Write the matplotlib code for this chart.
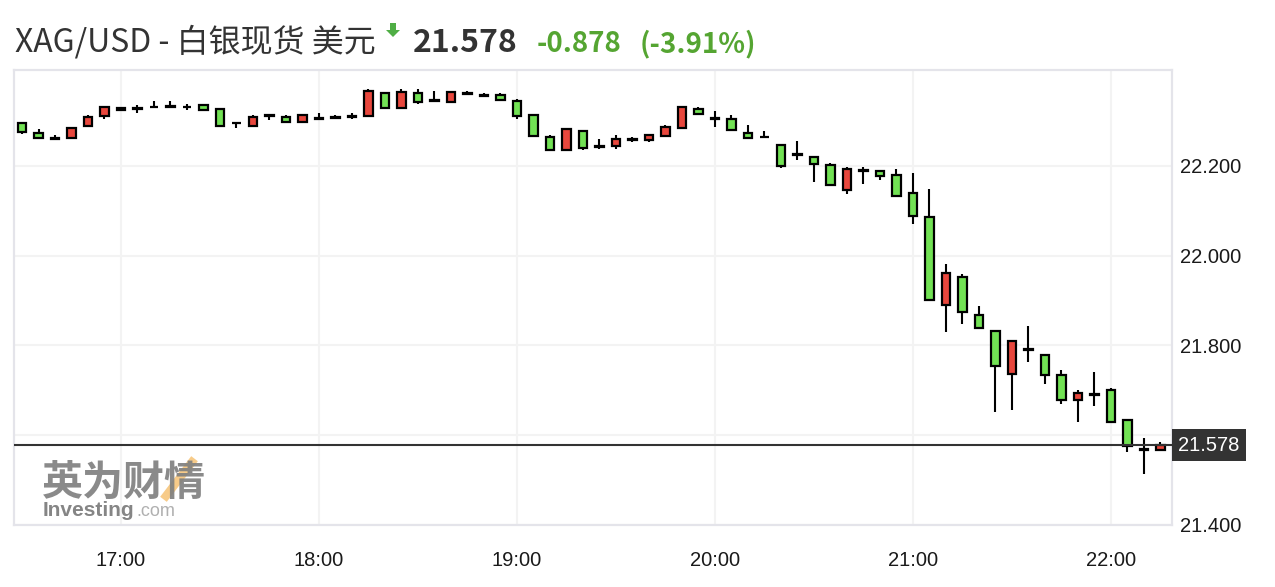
import matplotlib.pyplot as plt
import pandas as pd
from matplotlib.patches import Polygon

plt.rcParams['font.family'] = ['Liberation Sans', 'Noto Sans CJK SC', 'DejaVu Sans']

# 5-minute candles, 16:30 .. 22:15
times = pd.date_range("2020-09-21 16:30", periods=70, freq="5min")

opens = [22.294, 22.272, 22.262, 22.262, 22.289, 22.311, 22.329, 22.329, 22.330, 22.331,
         22.330, 22.336, 22.326, 22.294, 22.288, 22.312, 22.309, 22.298, 22.307, 22.307,
         22.308, 22.311, 22.361, 22.328, 22.361, 22.347, 22.342, 22.360, 22.356, 22.358,
         22.343, 22.312, 22.263, 22.235, 22.277, 22.243, 22.243, 22.258, 22.258, 22.267,
         22.284, 22.326, 22.307, 22.303, 22.272, 22.263, 22.246, 22.225, 22.219, 22.201,
         22.146, 22.190, 22.188, 22.180, 22.140, 22.086, 21.889, 21.952, 21.868, 21.832,
         21.737, 21.792, 21.779, 21.734, 21.679, 21.692, 21.701, 21.634, 21.569, 21.566]
highs = [22.294, 22.282, 22.268, 22.284, 22.313, 22.330, 22.330, 22.335, 22.344, 22.344,
         22.338, 22.336, 22.326, 22.296, 22.313, 22.315, 22.313, 22.313, 22.317, 22.313,
         22.318, 22.371, 22.361, 22.371, 22.371, 22.367, 22.364, 22.367, 22.362, 22.362,
         22.349, 22.312, 22.269, 22.282, 22.277, 22.260, 22.269, 22.264, 22.268, 22.291,
         22.330, 22.330, 22.322, 22.313, 22.291, 22.278, 22.246, 22.256, 22.219, 22.207,
         22.198, 22.198, 22.188, 22.193, 22.184, 22.149, 21.980, 21.958, 21.887, 21.832,
         21.810, 21.842, 21.779, 21.744, 21.700, 21.740, 21.704, 21.634, 21.593, 21.584]
lows = [22.271, 22.262, 22.258, 22.262, 22.289, 22.305, 22.323, 22.318, 22.328, 22.328,
        22.323, 22.324, 22.288, 22.283, 22.288, 22.301, 22.298, 22.298, 22.302, 22.305,
        22.305, 22.311, 22.328, 22.328, 22.337, 22.342, 22.342, 22.359, 22.354, 22.347,
        22.305, 22.267, 22.235, 22.235, 22.234, 22.238, 22.238, 22.252, 22.252, 22.267,
        22.284, 22.315, 22.287, 22.280, 22.262, 22.262, 22.195, 22.213, 22.163, 22.156,
        22.137, 22.159, 22.168, 22.133, 22.070, 21.902, 21.830, 21.848, 21.839, 21.652,
        21.656, 21.763, 21.714, 21.670, 21.630, 21.665, 21.630, 21.563, 21.514, 21.564]
closes = [22.276, 22.262, 22.259, 22.284, 22.308, 22.330, 22.325, 22.327, 22.331, 22.333,
          22.331, 22.324, 22.288, 22.294, 22.308, 22.310, 22.298, 22.313, 22.305, 22.308,
          22.310, 22.367, 22.328, 22.363, 22.342, 22.345, 22.364, 22.361, 22.357, 22.347,
          22.310, 22.267, 22.235, 22.281, 22.239, 22.241, 22.259, 22.259, 22.268, 22.286,
          22.330, 22.315, 22.305, 22.280, 22.262, 22.263, 22.199, 22.223, 22.204, 22.156,
          22.192, 22.188, 22.178, 22.133, 22.088, 21.902, 21.961, 21.875, 21.839, 21.755,
          21.810, 21.790, 21.733, 21.679, 21.694, 21.690, 21.630, 21.576, 21.567, 21.578]

last_price = 21.578
change = "-0.878"
change_pct = "(-3.91%)"
y_ticks = [21.4, 21.6, 21.8, 22.0, 22.2]
hour_labels = ["17:00", "18:00", "19:00", "20:00", "21:00", "22:00"]

up_color = '#e8473d'
down_color = '#72e254'
W, H = 1275, 587

fig = plt.figure(figsize=(12.75, 5.87), dpi=100)
ax = fig.add_axes([14 / W, 1 - 525 / H, (1172 - 14) / W, (525 - 70) / H])

idx = list(range(len(times)))
colors = [up_color if c >= o else down_color for o, c in zip(opens, closes)]
bottoms = [min(o, c) for o, c in zip(opens, closes)]
heights = [max(abs(c - o), 0.0015) for o, c in zip(opens, closes)]

ax.vlines(idx, lows, highs, color='black', linewidth=1.5, zorder=3)
ax.bar(idx, heights, bottom=bottoms, width=0.5, color=colors,
       edgecolor='black', linewidth=1.6, zorder=4)

ax.set_xlim(-0.485, 69.7)
ax.set_ylim(21.402, 22.413)

hour_pos = [i for i, t in enumerate(times) if t.minute == 0]
ax.set_xticks(hour_pos)
ax.set_xticklabels(hour_labels)
ax.set_yticks(y_ticks)
ax.set_yticklabels([f"{v:.3f}" for v in y_ticks])
ax.yaxis.tick_right()
ax.tick_params(axis='both', length=0, labelsize=14.5, colors='#1a1a1a')
ax.tick_params(axis='y', pad=6)
ax.tick_params(axis='x', pad=19)
ax.grid(True, color='#f3f3f3', linewidth=1.5, zorder=0)
ax.set_axisbelow(True)
for s in ax.spines.values():
    s.set_color('#e4e4ea')
    s.set_linewidth(1.6)

# current price line and label
ax.axhline(last_price, color='#333333', linewidth=1.5, zorder=5)
ax.text((1178 - 14) / (1172 - 14), last_price, f"{last_price:.3f}",
        transform=ax.get_yaxis_transform(), ha='left', va='center', fontsize=14.5,
        color='white', zorder=6, clip_on=False,
        bbox=dict(facecolor='#333333', edgecolor='none', boxstyle='square,pad=0.32'))

# watermark
fig.add_artist(plt.Line2D([166 / W, 192 / W], [1 - 496 / H, 1 - 462 / H],
                          color='#f7c67c', linewidth=6, alpha=0.9, zorder=1))
fig.text(42 / W, 1 - 495 / H, "英为财情", fontsize=29.5, fontweight='bold',
         color='#808080', family=['Noto Sans CJK SC'], va='baseline', alpha=0.92, zorder=2)
fig.text(43 / W, 1 - 516 / H, "Investing", fontsize=15, fontweight='bold',
         color='#858585', va='baseline')
fig.text(136 / W, 1 - 516 / H, ".com", fontsize=13, color='#b0b0b0', va='baseline')

# header
base = 1 - 52 / H
fig.text(15 / W, base, "XAG/USD - 白银现货 美元", fontsize=23, color='#333333',
         family=['Noto Sans CJK SC'], va='baseline')
arrow = [(390, 23), (396, 23), (396, 30), (400, 30), (393, 37), (386, 30), (390, 30)]
fig.add_artist(Polygon([(x / W, 1 - y / H) for x, y in arrow], closed=True,
                       transform=fig.transFigure, facecolor='#4fae45', edgecolor='none'))
fig.text(413 / W, base, f"{last_price:.3f}", fontsize=23, fontweight='bold',
         color='#333333', family=['Noto Sans CJK SC'], va='baseline')
fig.text(537 / W, base, change, fontsize=20, fontweight='bold', color='#55a532',
         family=['Noto Sans CJK SC'], va='baseline')
fig.text(640 / W, base, change_pct, fontsize=20, fontweight='bold', color='#55a532',
         family=['Noto Sans CJK SC'], va='baseline')

plt.savefig('out.png', dpi=100)
